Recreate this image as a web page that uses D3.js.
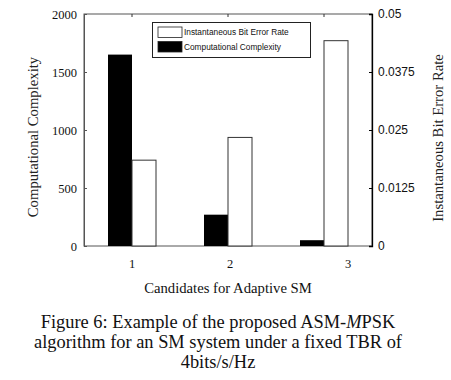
<!DOCTYPE html>
<html>
<head>
<meta charset="utf-8">
<script src="https://cdn.jsdelivr.net/npm/d3@7"></script>
<style>
  body { margin: 0; background: #fff; }
  svg { display: block; }
</style>
</head>
<body>
<div id="chart"></div>
<script>
// data
const candidates = ['1', '2', '3'];
const complexity = [1650, 270, 50];            // left axis, black bars
const bitErrorRate = [0.0185, 0.0234, 0.04425]; // right axis, white bars
const leftTicks = [0, 500, 1000, 1500, 2000];
const rightTicks = [0, 0.0125, 0.025, 0.0375, 0.05];
const rightTickLabels = ['0', '0.0125', '0.025', '0.0375', '0.05'];
const legendLabels = ['Instantaneous Bit Error Rate', 'Computational Complexity'];
const captionLines = [
    ['Figure 6: Example of the proposed ASM-', 'M', 'PSK'],
    ['algorithm for an SM system under a fixed TBR of'],
    ['4bits/s/Hz']
];

const width = 451, height = 380;
const margin = { left: 84, right: 79, top: 14, bottom: 134 };
const plotW = width - margin.left - margin.right;
const plotH = height - margin.top - margin.bottom;
const serif = '"Liberation Serif", "DejaVu Serif", serif';
const sans = '"Liberation Sans", Arial, sans-serif';

const svg = d3.select('#chart').append('svg')
    .attr('width', width)
    .attr('height', height);

const g = svg.append('g')
    .attr('transform', `translate(${margin.left},${margin.top})`);

// scales
const x = d3.scaleBand()
    .domain(candidates)
    .range([0, plotW])
    .paddingInner(0.5)
    .paddingOuter(0.25);

const yLeft = d3.scaleLinear().domain([0, 2000]).range([plotH, 0]);
const yRight = d3.scaleLinear().domain([0, 0.05]).range([plotH, 0]);

const half = x.bandwidth() / 2;

// frame (gray top/left/bottom)
g.append('rect')
    .attr('x', 0).attr('y', 0)
    .attr('width', plotW).attr('height', plotH)
    .attr('fill', 'none')
    .attr('stroke', '#555')
    .attr('stroke-width', 1);

// black bars: complexity
g.selectAll('.cc')
    .data(complexity)
    .join('rect')
    .attr('class', 'cc')
    .attr('x', (d, i) => x(candidates[i]))
    .attr('y', d => yLeft(d))
    .attr('width', half)
    .attr('height', d => plotH - yLeft(d))
    .attr('fill', '#000');

// white bars: BER
g.selectAll('.ber')
    .data(bitErrorRate)
    .join('rect')
    .attr('class', 'ber')
    .attr('x', (d, i) => x(candidates[i]) + half)
    .attr('y', d => yRight(d))
    .attr('width', half)
    .attr('height', d => plotH - yRight(d))
    .attr('fill', '#fff')
    .attr('stroke', '#333')
    .attr('stroke-width', 1);

// left axis
g.append('g')
    .call(d3.axisLeft(yLeft).tickValues(leftTicks).tickFormat(d3.format('d'))
        .tickSize(-3).tickPadding(7))
    .call(a => a.select('.domain').attr('stroke', '#555'))
    .call(a => a.selectAll('.tick line').attr('stroke', '#555'))
    .call(a => a.selectAll('text')
        .style('font-family', serif)
        .style('font-size', '12.5px')
        .style('fill', '#111'));

// right axis
g.append('g')
    .attr('transform', `translate(${plotW},0)`)
    .call(d3.axisRight(yRight).tickValues(rightTicks)
        .tickFormat((d, i) => rightTickLabels[i]).tickSize(-3).tickPadding(6))
    .call(a => a.select('.domain').attr('stroke', '#000').attr('stroke-width', 1.3))
    .call(a => a.selectAll('.tick line').attr('stroke', '#000'))
    .call(a => a.selectAll('text')
        .style('font-family', sans)
        .style('font-size', '12px')
        .style('fill', '#111'));

// bottom axis: labels at band centres, no tick marks
g.append('g')
    .attr('transform', `translate(0,${plotH})`)
    .call(d3.axisBottom(x).tickSize(0).tickPadding(13))
    .call(a => a.select('.domain').remove())
    .call(a => a.selectAll('text')
        .attr('dx', (d, i) => i === 2 ? 24 : (i === 1 ? 2 : 0))
        .style('font-family', serif)
        .style('font-size', '12.5px')
        .style('fill', '#111'));

// top ticks
g.append('g')
    .call(d3.axisTop(x).tickSize(-3).tickFormat(''))
    .call(a => a.select('.domain').remove())
    .call(a => a.selectAll('.tick line').attr('stroke', '#333'));

// legend
const legend = g.append('g')
    .attr('transform', `translate(${152 - margin.left},${22 - margin.top})`);

legend.append('rect')
    .attr('x', 0.5).attr('y', 0.5)
    .attr('width', 158).attr('height', 35)
    .attr('fill', '#fff')
    .attr('stroke', '#222')
    .attr('stroke-width', 1);

legend.selectAll('.sw')
    .data(legendLabels)
    .join('rect')
    .attr('class', 'sw')
    .attr('x', 6)
    .attr('y', (d, i) => 5 + i * 14.5)
    .attr('width', 24)
    .attr('height', 10.5)
    .attr('fill', (d, i) => i === 0 ? '#fff' : '#000')
    .attr('stroke', '#222')
    .attr('stroke-width', 0.8);

legend.selectAll('.lt')
    .data(legendLabels)
    .join('text')
    .attr('class', 'lt')
    .attr('x', 32)
    .attr('y', (d, i) => 10.5 + i * 14.5)
    .attr('dy', '0.35em')
    .text(d => d)
    .style('font-family', sans)
    .style('font-size', '8.3px')
    .style('fill', '#111');

// axis titles
svg.append('text')
    .attr('transform', 'rotate(-90)')
    .attr('x', -137)
    .attr('y', 38)
    .attr('text-anchor', 'middle')
    .text('Computational Complexity')
    .style('font-family', serif)
    .style('font-size', '14.7px')
    .style('fill', '#222');

svg.append('text')
    .attr('transform', 'rotate(-90)')
    .attr('x', -138)
    .attr('y', 443)
    .attr('text-anchor', 'middle')
    .text('Instantaneous Bit Error Rate')
    .style('font-family', serif)
    .style('font-size', '14.7px')
    .style('fill', '#222');

svg.append('text')
    .attr('x', 228)
    .attr('y', 293)
    .attr('text-anchor', 'middle')
    .text('Candidates for Adaptive SM')
    .style('font-family', serif)
    .style('font-size', '14.7px')
    .style('fill', '#111');

// caption
const caption = svg.append('text')
    .attr('text-anchor', 'middle')
    .style('font-family', serif)
    .style('font-size', '18.4px')
    .style('fill', '#111');

captionLines.forEach((parts, i) => {
    const line = caption.append('tspan')
        .attr('x', 218)
        .attr('y', 328 + i * 20);
    parts.forEach((p, j) => {
        const t = j === 0 ? line : caption.append('tspan');
        if (j === 0) t.text(p);
        else t.text(p).style('font-style', p === 'M' ? 'italic' : 'normal');
    });
});
</script>
</body>
</html>
